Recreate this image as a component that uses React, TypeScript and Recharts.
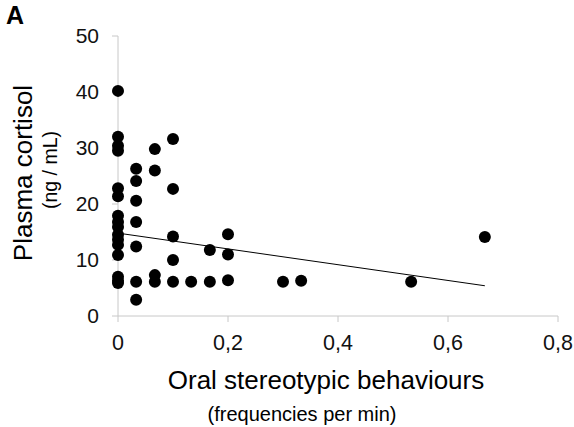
import React from 'react';
import { ScatterChart, Scatter, XAxis, YAxis, ReferenceLine, Label } from 'recharts';

// x = oral stereotypic behaviours (freq/min), y = plasma cortisol (ng/mL)
const freqX = [
  0, 0, 0, 0, 0, 0, 0, 0, 0, 0, 0, 0, 0, 0, 0, 0,
  0.033, 0.033, 0.033, 0.033, 0.033, 0.033, 0.033,
  0.067, 0.067, 0.067, 0.067,
  0.1, 0.1, 0.1, 0.1, 0.1,
  0.133, 0.167, 0.167, 0.2, 0.2, 0.2,
  0.3, 0.333, 0.533, 0.667,
];
const cortisolY = [
  40.2, 32, 30.4, 29.5, 22.8, 21.4, 17.9, 16.8, 15.9, 14.5, 13.6, 12.7, 10.9, 7, 6.3, 5.9,
  26.3, 24.1, 20.6, 16.8, 12.4, 6.1, 2.9,
  29.8, 26, 7.3, 6.1,
  31.6, 22.7, 14.2, 10, 6.1,
  6.1, 11.8, 6.1, 14.6, 11, 6.4,
  6.1, 6.3, 6.1, 14.1,
];
const trendX = [0, 0.667];
const trendY = [14.8, 5.4];
const xTicks = [0, 0.2, 0.4, 0.6, 0.8];
const yTicks = [0, 10, 20, 30, 40, 50];

const points = freqX.map((x, i) => ({ x, y: cortisolY[i] }));
const font = '"Liberation Sans", Arial, sans-serif';

const Dot = (props: any) => <circle cx={props.cx} cy={props.cy} r={6} fill="#000" />;

const YTitle = () => (
  <g fontFamily={font}>
    <text x={23} y={173} transform="rotate(-90, 23, 173)" textAnchor="middle" dominantBaseline="central" fontSize={26} fill="#000">
      Plasma cortisol
    </text>
    <text x={50} y={170} transform="rotate(-90, 50, 170)" textAnchor="middle" dominantBaseline="central" fontSize={19.5} fill="#000">
      (ng / mL)
    </text>
  </g>
);

const XTitle = () => (
  <g fontFamily={font}>
    <text x={326} y={380} textAnchor="middle" dominantBaseline="central" fontSize={26} fill="#000">
      Oral stereotypic behaviours
    </text>
    <text x={302} y={414} textAnchor="middle" dominantBaseline="central" fontSize={20} fill="#000">
      (frequencies per min)
    </text>
  </g>
);

export default function App() {
  return (
    <div style={{ position: 'absolute', left: 0, top: 0, width: 574, height: 427, background: '#fff' }}>
      <div style={{ position: 'absolute', left: 6, top: 0, lineHeight: '30px', fontFamily: font, fontWeight: 'bold', fontSize: 25, color: '#000' }}>A</div>
      <ScatterChart width={574} height={427} margin={{ top: 36, right: 16, left: 58, bottom: 81 }}>
        <XAxis
          type="number"
          dataKey="x"
          domain={[0, 0.8]}
          ticks={xTicks}
          tickFormatter={(v: number) => String(v).replace('.', ',')}
          height={30}
          stroke="#c8c8c8"
          tickSize={6}
          tickMargin={13}
          tick={{ fontSize: 21.5, fill: '#111', fontFamily: font }}
        >
          <Label content={<XTitle />} />
        </XAxis>
        <YAxis
          type="number"
          dataKey="y"
          domain={[0, 50]}
          ticks={yTicks}
          width={60}
          stroke="#c8c8c8"
          tickSize={6}
          tickMargin={13}
          tick={{ fontSize: 21, fill: '#111', fontFamily: font }}
        >
          <Label content={<YTitle />} />
        </YAxis>
        <Scatter data={points} fill="#000" shape={<Dot />} isAnimationActive={false} />
        <ReferenceLine
          segment={[
            { x: trendX[0], y: trendY[0] },
            { x: trendX[1], y: trendY[1] },
          ]}
          stroke="#000"
          strokeWidth={1}
          ifOverflow="visible"
        />
      </ScatterChart>
    </div>
  );
}
